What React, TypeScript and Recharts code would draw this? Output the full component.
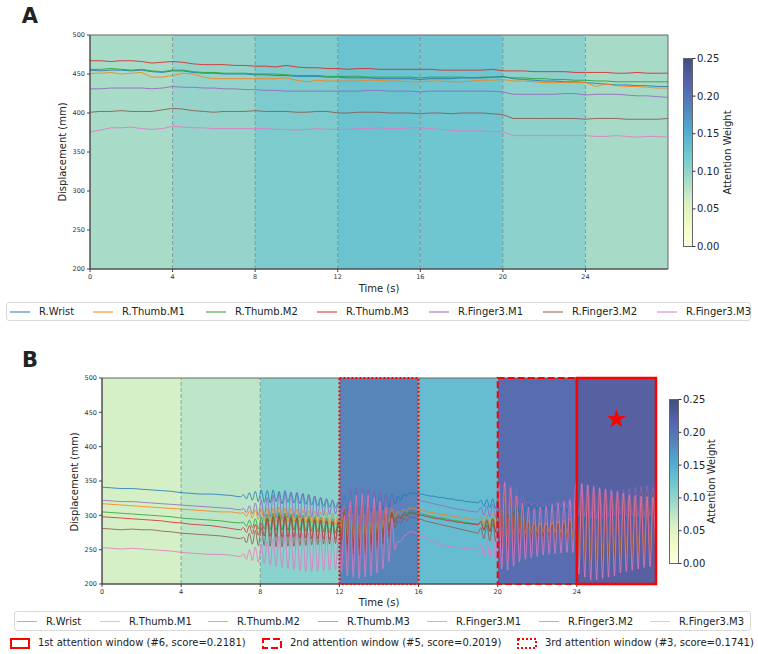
import React from "react";
import {
  LineChart,
  Line,
  XAxis,
  YAxis,
  ReferenceArea,
  ReferenceLine,
  ReferenceDot,
} from "recharts";

// marker series, plotted in this order (last one on top)
const SERIES = [
  { key: "wrist", name: "R.Wrist", color: "#1f77b4" },
  { key: "thumbM1", name: "R.Thumb.M1", color: "#ff7f0e" },
  { key: "thumbM2", name: "R.Thumb.M2", color: "#2ca02c" },
  { key: "thumbM3", name: "R.Thumb.M3", color: "#d62728" },
  { key: "finger3M1", name: "R.Finger3.M1", color: "#9467bd" },
  { key: "finger3M2", name: "R.Finger3.M2", color: "#8c564b" },
  { key: "finger3M3", name: "R.Finger3.M3", color: "#e377c2" },
];

const TIME_TICKS = [0, 4, 8, 12, 16, 20, 24];
const DISP_TICKS = [200, 250, 300, 350, 400, 450, 500];
const WEIGHT_TICKS = [0, 0.05, 0.1, 0.15, 0.2, 0.25];
const WINDOW_STARTS = [0, 4, 8, 12, 16, 20, 24];
const WINDOW_LEN = 4;

// trial A: one sample every 0.5 s, 0..28 s
const A_STEP = 0.5;
const A_WRIST = [
  455, 454, 455, 455, 454, 455, 453, 452,
  454, 454, 452, 451, 451, 450, 450, 450,
  449, 449, 448, 448, 447, 447, 447, 446,
  446, 445, 445, 445, 444, 444, 444, 444,
  443, 444, 444, 444, 445, 445, 445, 446,
  447, 444, 443, 442, 441, 441, 440, 440,
  439, 438, 437, 436, 436, 435, 435, 434,
  434,
];
const A_THUMB_M1 = [
  451, 451, 452, 450, 451, 452, 446, 446,
  448, 451, 450, 446, 444, 444, 444, 444,
  444, 444, 444, 445, 442, 440, 442, 441,
  441, 441, 441, 442, 442, 441, 441, 440,
  440, 441, 441, 440, 440, 441, 442, 442,
  443, 441, 441, 440, 439, 439, 439, 439,
  439, 434, 437, 435, 434, 434, 433, 432,
  432,
];
const A_THUMB_M2 = [
  456, 456, 457, 456, 455, 456, 454, 453,
  455, 455, 453, 452, 452, 451, 451, 451,
  450, 450, 450, 449, 448, 448, 448, 447,
  447, 447, 447, 446, 446, 446, 446, 446,
  445, 446, 446, 446, 446, 445, 446, 446,
  446, 445, 445, 444, 444, 443, 443, 442,
  442, 441, 441, 440, 440, 440, 440, 440,
  440,
];
const A_THUMB_M3 = [
  467, 467, 466, 467, 467, 466, 464, 465,
  466, 465, 463, 462, 462, 462, 461, 461,
  460, 460, 459, 461, 459, 458, 458, 457,
  457, 456, 457, 457, 456, 456, 456, 456,
  456, 456, 455, 455, 455, 455, 455, 456,
  454, 454, 454, 453, 453, 453, 453, 452,
  452, 452, 452, 451, 451, 452, 451, 451,
  451,
];
const A_FINGER3_M1 = [
  431, 431, 432, 432, 432, 432, 431, 432,
  434, 433, 433, 432, 432, 431, 431, 430,
  430, 429, 429, 428, 428, 428, 428, 428,
  428, 428, 428, 429, 429, 428, 428, 428,
  427, 428, 428, 428, 428, 428, 428, 428,
  427, 424, 424, 424, 424, 424, 425, 425,
  423, 424, 424, 424, 423, 422, 422, 421,
  420,
];
const A_FINGER3_M2 = [
  401, 402, 402, 403, 402, 402, 402, 404,
  406, 405, 403, 402, 401, 402, 402, 402,
  403, 402, 402, 402, 401, 401, 402, 402,
  400, 400, 401, 401, 401, 400, 400, 400,
  399, 400, 400, 399, 400, 400, 400, 399,
  398, 393, 393, 393, 393, 393, 393, 393,
  392, 393, 393, 393, 392, 392, 392, 392,
  393,
];
const A_FINGER3_M3 = [
  376, 378, 381, 381, 382, 380, 379, 380,
  383, 382, 381, 381, 380, 380, 380, 380,
  380, 380, 379, 379, 378, 379, 380, 379,
  379, 379, 380, 380, 381, 380, 380, 381,
  381, 380, 379, 378, 377, 377, 377, 376,
  376, 371, 371, 371, 371, 371, 371, 371,
  371, 370, 370, 371, 370, 369, 370, 370,
  369,
];

// trial B: 0.5 s samples while still (0..7 s), then 0.15 s samples through the tremor
const B_STILL_STEP = 0.5;
const B_STILL_COUNT = 15;
const B_TREMOR_START = 7.15;
const B_TREMOR_STEP = 0.15;
const B_WRIST = [
  341, 340, 339, 339, 338, 337, 336, 335, 333, 332, 331, 331, 330, 329, 327,
  330, 324, 333, 322, 335, 320, 337,
  319, 336, 318, 337, 320, 335, 317, 336, 319, 334, 318, 333, 317, 332, 316, 330, 315, 328, 314, 326, 313, 324, 312, 322, 311, 320,
  310, 330, 304, 338, 302, 340, 300, 339, 302, 338, 304, 336, 306, 334, 308, 332, 312, 330, 316,
  328, 322, 331, 328, 333, 332,
  332, 331, 331, 330, 329, 328, 328, 327, 326, 326, 325, 324, 324, 323, 322, 322, 321, 320, 320, 319, 319, 318,
  322, 313, 323, 311, 324, 310,
  336, 300, 342, 296, 340, 298, 336, 302, 330,
  305, 325, 307, 322, 308, 320, 309, 318, 309, 318, 308, 318, 307, 320, 306, 322, 304,
  338, 292, 342, 288, 343, 286, 342, 285, 340, 286, 338, 288, 336, 290, 334, 292, 334, 292, 335, 291, 336, 290, 337, 290, 338, 291, 336, 292,
];
const B_THUMB_M1 = [
  317, 316, 315, 314, 313, 312, 311, 310, 309, 308, 307, 306, 305, 305, 303,
  304, 298, 306, 296, 308, 294, 309,
  292, 310, 291, 311, 290, 312, 291, 311, 290, 310, 291, 309, 290, 308, 289, 307, 289, 306, 288, 305, 288, 304, 287, 303, 286, 302,
  282, 312, 272, 318, 268, 322, 266, 320, 268, 318, 272, 316, 276, 314, 282, 312, 290, 310, 298,
  306, 302, 309, 306, 311, 310,
  309, 308, 307, 306, 305, 304, 304, 303, 302, 301, 301, 300, 299, 298, 298, 297, 296, 296, 295, 294, 294, 293,
  298, 286, 300, 284, 302, 283,
  330, 262, 336, 260, 330, 266, 322, 272, 312,
  274, 292, 275, 290, 276, 289, 276, 289, 276, 290, 275, 291, 274, 292, 273, 294, 270,
  326, 250, 330, 246, 332, 244, 331, 244, 330, 246, 328, 248, 326, 250, 324, 252, 324, 252, 325, 251, 326, 250, 327, 250, 328, 251, 326, 252,
];
const B_THUMB_M2 = [
  305, 304, 303, 302, 301, 300, 299, 298, 296, 295, 294, 293, 292, 290, 289,
  290, 284, 293, 282, 295, 280, 297,
  280, 302, 279, 303, 278, 304, 279, 303, 278, 302, 279, 301, 278, 300, 277, 299, 277, 298, 276, 297, 276, 296, 275, 295, 274, 294,
  272, 306, 264, 312, 260, 316, 258, 315, 260, 313, 264, 311, 268, 309, 274, 307, 282, 305, 292,
  300, 297, 304, 301, 306, 305,
  304, 303, 302, 301, 300, 299, 298, 297, 296, 296, 295, 294, 293, 292, 292, 291, 290, 290, 289, 288, 288, 287,
  292, 280, 294, 278, 296, 277,
  326, 258, 332, 256, 326, 262, 318, 268, 306,
  270, 288, 271, 286, 272, 285, 272, 285, 272, 286, 271, 287, 270, 288, 269, 290, 266,
  322, 246, 326, 242, 328, 240, 327, 240, 326, 242, 324, 244, 322, 246, 320, 248, 320, 248, 321, 247, 322, 246, 323, 246, 324, 247, 322, 248,
];
const B_THUMB_M3 = [
  298, 297, 296, 295, 294, 293, 292, 290, 289, 287, 286, 285, 283, 281, 279,
  282, 275, 285, 273, 287, 271, 289,
  270, 296, 269, 298, 268, 299, 268, 298, 268, 297, 268, 296, 267, 295, 267, 294, 266, 293, 266, 292, 266, 291, 265, 290, 265, 289,
  266, 302, 258, 310, 254, 314, 252, 313, 254, 311, 258, 309, 262, 307, 268, 305, 278, 303, 290,
  298, 295, 302, 299, 304, 303,
  302, 301, 300, 299, 298, 297, 296, 295, 295, 294, 293, 292, 292, 291, 290, 290, 289, 288, 288, 287, 287, 286,
  290, 278, 292, 276, 294, 275,
  328, 256, 334, 254, 328, 260, 320, 266, 308,
  268, 287, 269, 285, 270, 284, 270, 284, 270, 285, 269, 286, 268, 287, 267, 289, 264,
  324, 244, 328, 240, 330, 238, 329, 238, 328, 240, 326, 242, 324, 244, 322, 246, 322, 246, 323, 245, 324, 244, 325, 244, 326, 245, 324, 246,
];
const B_FINGER3_M1 = [
  322, 321, 320, 320, 319, 318, 317, 316, 315, 314, 313, 312, 311, 310, 308,
  310, 304, 314, 302, 318, 300, 322,
  298, 326, 297, 330, 296, 332, 295, 333, 296, 334, 297, 333, 296, 332, 298, 330, 297, 328, 298, 326, 300, 324, 301, 322, 302, 318,
  296, 335, 290, 340, 286, 342, 284, 341, 286, 340, 288, 338, 290, 336, 294, 332, 298, 328, 304,
  316, 310, 320, 317, 322, 323,
  323, 322, 321, 320, 319, 318, 317, 316, 315, 314, 313, 312, 311, 310, 309, 308, 308, 307, 306, 306, 305, 305,
  312, 300, 314, 298, 316, 297,
  345, 300, 348, 302, 344, 306, 338, 310, 330,
  313, 322, 314, 320, 313, 319, 313, 318, 314, 318, 313, 320, 312, 322, 311, 325, 306,
  346, 300, 347, 298, 345, 296, 343, 295, 341, 296, 339, 298, 338, 300, 337, 301, 338, 300, 339, 299, 341, 298, 342, 298, 343, 299, 341, 300,
];
const B_FINGER3_M2 = [
  281, 280, 279, 280, 279, 279, 277, 276, 274, 273, 272, 271, 270, 268, 266,
  268, 260, 274, 258, 278, 256, 282,
  256, 295, 255, 298, 254, 300, 254, 299, 255, 298, 255, 297, 256, 296, 256, 295, 257, 294, 257, 293, 258, 292, 258, 291, 259, 290,
  256, 310, 248, 318, 244, 322, 242, 321, 244, 319, 248, 317, 252, 314, 258, 310, 268, 305, 282,
  292, 288, 296, 292, 298, 297,
  296, 295, 294, 292, 291, 290, 289, 288, 287, 286, 285, 284, 283, 282, 281, 280, 279, 278, 277, 276, 275, 274,
  282, 266, 286, 263, 288, 262,
  338, 250, 342, 248, 336, 254, 326, 260, 314,
  262, 290, 263, 288, 264, 286, 264, 286, 264, 287, 263, 289, 262, 290, 261, 293, 258,
  335, 236, 338, 232, 340, 230, 339, 230, 338, 232, 336, 234, 334, 236, 332, 238, 331, 238, 332, 237, 333, 236, 334, 236, 335, 237, 333, 238,
];
const B_FINGER3_M3 = [
  253, 252, 251, 252, 251, 250, 249, 248, 246, 245, 244, 243, 243, 242, 240,
  244, 236, 250, 234, 254, 232, 258,
  230, 262, 228, 266, 226, 270, 224, 272, 222, 273, 220, 274, 219, 274, 218, 274, 218, 273, 218, 272, 219, 270, 220, 268, 221, 266,
  218, 300, 212, 320, 210, 330, 208, 332, 210, 330, 212, 326, 216, 320, 222, 310, 232, 296, 250,
  262, 262, 270, 272, 276, 276,
  274, 272, 270, 268, 266, 264, 262, 260, 258, 257, 256, 255, 254, 254, 253, 253, 252, 252, 251, 251, 250, 250,
  258, 242, 262, 238, 266, 236,
  345, 222, 348, 220, 340, 226, 328, 232, 318,
  236, 312, 238, 310, 240, 312, 242, 314, 243, 316, 244, 318, 245, 320, 246, 322, 246,
  348, 214, 346, 210, 344, 206, 342, 206, 340, 208, 338, 210, 336, 212, 334, 216, 332, 218, 330, 220, 329, 222, 328, 224, 327, 225, 326, 226,
];

// top-ranked attention windows in trial B
const TOP_WINDOWS = [
  { rank: "1st", index: 6, score: 0.2181 },
  { rank: "2nd", index: 5, score: 0.2019 },
  { rank: "3rd", index: 3, score: 0.1741 },
];
const PEAK_MARK = { t: 26, value: 440 };

// window shading (colormap colours for each window's weight)
const FILLS_A = ["#a8dcc9", "#96d4cb", "#7ecbce", "#6cc3d0", "#6fc5d0", "#8dd1cc", "#a7dbc8"];
const FILLS_B = ["#d5efc6", "#bde5c8", "#89d2cd", "#5685ba", "#66bdd2", "#576db0", "#5760a0"];
const RANK_DASH = ["", "7 3", "2 2"];
const RANK_WIDTH = [2.5, 2, 2];
const CMAP = ["#ffffe1", "#f1f9c2", "#d3eec4", "#9bd8ca", "#6bc6d1", "#4fa9ce", "#5381bb", "#5561ac", "#3e4f7d"];

const valuesA: Record<string, number[]> = {
  wrist: A_WRIST, thumbM1: A_THUMB_M1, thumbM2: A_THUMB_M2, thumbM3: A_THUMB_M3,
  finger3M1: A_FINGER3_M1, finger3M2: A_FINGER3_M2, finger3M3: A_FINGER3_M3,
};
const valuesB: Record<string, number[]> = {
  wrist: B_WRIST, thumbM1: B_THUMB_M1, thumbM2: B_THUMB_M2, thumbM3: B_THUMB_M3,
  finger3M1: B_FINGER3_M1, finger3M2: B_FINGER3_M2, finger3M3: B_FINGER3_M3,
};

const rowsA = A_WRIST.map((_, i) => {
  const row: Record<string, number> = { t: i * A_STEP };
  SERIES.forEach((s) => (row[s.key] = valuesA[s.key][i]));
  return row;
});

const rowsB = B_WRIST.map((_, i) => {
  const t = i < B_STILL_COUNT ? i * B_STILL_STEP : B_TREMOR_START + (i - B_STILL_COUNT) * B_TREMOR_STEP;
  const row: Record<string, number> = { t: Math.round(t * 100) / 100 };
  SERIES.forEach((s) => (row[s.key] = valuesB[s.key][i]));
  return row;
});

const FONT = "'DejaVu Sans', sans-serif";
const tickStyle = { fontSize: 6.5, fill: "#333", fontFamily: FONT };

function Label({ x, y, size = 10, rotate = false, bold = false, children }: any) {
  return (
    <div
      style={{
        position: "absolute",
        left: x,
        top: y,
        transform: `translate(-50%, -50%)${rotate ? " rotate(-90deg)" : ""}`,
        fontSize: size,
        fontWeight: bold ? 700 : 400,
        whiteSpace: "nowrap",
        lineHeight: 1,
      }}
    >
      {children}
    </div>
  );
}

function ColorBar({ x, y, h, labelOffset, id }: any) {
  const w = 9;
  return (
    <svg style={{ position: "absolute", left: x, top: y - 8 }} width={80} height={h + 16}>
      <defs>
        <linearGradient id={id} x1="0" y1="1" x2="0" y2="0">
          {CMAP.map((c, i) => (
            <stop key={i} offset={i / (CMAP.length - 1)} stopColor={c} />
          ))}
        </linearGradient>
      </defs>
      <rect x={0.5} y={8.5} width={w} height={h} fill={`url(#${id})`} stroke="#666" strokeWidth={1} />
      {WEIGHT_TICKS.map((v) => {
        const ty = 8.5 + h * (1 - v / 0.25);
        return (
          <g key={v}>
            <line x1={w + 0.5} x2={w + 3.5} y1={ty} y2={ty} stroke="#333" />
            <text x={w + 5} y={ty} dominantBaseline="central" fontSize={10} fill="#222" fontFamily={FONT}>
              {v.toFixed(2)}
            </text>
          </g>
        );
      })}
      <text
        x={labelOffset}
        y={8.5 + h / 2}
        transform={`rotate(-90 ${labelOffset} ${8.5 + h / 2})`}
        textAnchor="middle"
        dominantBaseline="central"
        fontSize={10}
        fill="#222"
        fontFamily={FONT}
      >
        Attention Weight
      </text>
    </svg>
  );
}

function SeriesLegend({ left, top, width, height, textStarts }: any) {
  return (
    <div
      style={{
        position: "absolute",
        left,
        top,
        width,
        height,
        border: "1px solid #d9d9d9",
        borderRadius: 3,
        boxSizing: "border-box",
      }}
    >
      {SERIES.map((s, i) => (
        <React.Fragment key={s.key}>
          <div
            style={{
              position: "absolute",
              left: textStarts[i] - left - 30,
              top: height / 2 - 1.5,
              width: 20,
              height: 1.5,
              background: s.color,
              opacity: 0.5,
            }}
          />
          <div
            style={{
              position: "absolute",
              left: textStarts[i] - left - 1,
              top: height / 2 - 6.5,
              fontSize: 10,
              lineHeight: "12px",
              whiteSpace: "nowrap",
            }}
          >
            {s.name}
          </div>
        </React.Fragment>
      ))}
    </div>
  );
}

function WindowLegend({ top }: any) {
  const starts = [10, 262, 517];
  return (
    <>
      {TOP_WINDOWS.map((w, i) => (
        <React.Fragment key={w.rank}>
          <svg style={{ position: "absolute", left: starts[i], top: top - 5 }} width={20} height={11}>
            <rect
              x={1}
              y={1}
              width={18}
              height={9}
              fill="none"
              stroke="#ff0000"
              strokeWidth={2}
              strokeDasharray={RANK_DASH[i] || undefined}
            />
          </svg>
          <div
            style={{
              position: "absolute",
              left: starts[i] + 28,
              top: top - 6,
              fontSize: 10,
              lineHeight: "12px",
              whiteSpace: "nowrap",
            }}
          >
            {`${w.rank} attention window (#${w.index}, score=${w.score.toFixed(4)})`}
          </div>
        </React.Fragment>
      ))}
    </>
  );
}

function Star(props: any) {
  const { cx, cy } = props;
  const pts: string[] = [];
  for (let i = 0; i < 10; i++) {
    const r = i % 2 === 0 ? 10 : 3.8;
    const a = -Math.PI / 2 + (i * Math.PI) / 5;
    pts.push(`${cx + r * Math.cos(a)},${cy + r * Math.sin(a)}`);
  }
  return <polygon points={pts.join(" ")} fill="#ff0000" />;
}

function axes() {
  return [
    <XAxis
      key="x"
      dataKey="t"
      type="number"
      domain={[0, 28]}
      ticks={TIME_TICKS}
      allowDataOverflow
      height={20}
      tickSize={3}
      tickMargin={2}
      tick={tickStyle}
      stroke="#444"
    />,
    <YAxis
      key="y"
      type="number"
      domain={[200, 500]}
      ticks={DISP_TICKS}
      allowDataOverflow
      width={40}
      tickSize={3}
      tickMargin={2}
      tick={tickStyle}
      stroke="#444"
    />,
  ];
}

export default function App() {
  return (
    <div
      style={{
        position: "absolute",
        left: 0,
        top: 0,
        width: 758,
        height: 654,
        background: "#fff",
        fontFamily: FONT,
        color: "#222",
        overflow: "hidden",
      }}
    >
      <Label x={30} y={16} size={21} bold>A</Label>
      <div style={{ position: "absolute", left: 0, top: 0 }}>
        <LineChart width={758} height={300} data={rowsA} margin={{ top: 35, right: 90, bottom: 11, left: 50 }}>
          {WINDOW_STARTS.map((s, i) => (
            <ReferenceArea key={s} x1={s} x2={s + WINDOW_LEN} fill={FILLS_A[i]} fillOpacity={1} stroke="none" />
          ))}
          {WINDOW_STARTS.slice(1).map((s) => (
            <ReferenceLine key={s} x={s} stroke="#6f7f80" strokeOpacity={0.7} strokeDasharray="4 2" />
          ))}
          <ReferenceArea x1={0} x2={28} y1={200} y2={500} fill="none" stroke="#666" />
          {axes()}
          {SERIES.map((s) => (
            <Line
              key={s.key}
              dataKey={s.key}
              name={s.name}
              stroke={s.color}
              strokeOpacity={0.85}
              strokeWidth={1}
              dot={false}
              type="linear"
              isAnimationActive={false}
            />
          ))}
        </LineChart>
      </div>
      <Label x={63} y={152} rotate>Displacement (mm)</Label>
      <Label x={379} y={289}>Time (s)</Label>
      <ColorBar x={683} y={58} h={188} labelOffset={44} id="cbarA" />
      <SeriesLegend left={6} top={302} width={745} height={19} textStarts={[39, 122, 235, 346, 458, 572, 686]} />

      <Label x={30} y={360} size={21} bold>B</Label>
      <div style={{ position: "absolute", left: 0, top: 340 }}>
        <LineChart width={758} height={270} data={rowsB} margin={{ top: 38, right: 102, bottom: 6, left: 62 }}>
          {WINDOW_STARTS.map((s, i) => (
            <ReferenceArea key={s} x1={s} x2={s + WINDOW_LEN} fill={FILLS_B[i]} fillOpacity={1} stroke="none" />
          ))}
          {[4, 8].map((s) => (
            <ReferenceLine key={s} x={s} stroke="#6f7f80" strokeOpacity={0.7} strokeDasharray="4 2" />
          ))}
          <ReferenceArea x1={0} x2={28} y1={200} y2={500} fill="none" stroke="#666" />
          {axes()}
          {SERIES.map((s) => (
            <Line
              key={s.key}
              dataKey={s.key}
              name={s.name}
              stroke={s.color}
              strokeOpacity={0.8}
              strokeWidth={1}
              dot={false}
              type="monotone"
              isAnimationActive={false}
            />
          ))}
          {TOP_WINDOWS.map((w, i) => (
            <ReferenceArea
              key={w.rank}
              x1={WINDOW_STARTS[w.index]}
              x2={WINDOW_STARTS[w.index] + WINDOW_LEN}
              y1={200}
              y2={500}
              fill="none"
              stroke="#ff0000"
              strokeWidth={RANK_WIDTH[i]}
              strokeDasharray={RANK_DASH[i] || undefined}
              zIndex={900 - i}
            />
          ))}
          <ReferenceDot x={PEAK_MARK.t} y={PEAK_MARK.value} r={10} shape={Star} zIndex={950} />
        </LineChart>
      </div>
      <Label x={75} y={482} rotate>Displacement (mm)</Label>
      <Label x={379} y={603}>Time (s)</Label>
      <ColorBar x={669} y={399} h={164} labelOffset={42} id="cbarB" />
      <SeriesLegend left={14} top={611} width={737} height={20} textStarts={[46, 129, 237, 347, 456, 568, 679]} />
      <WindowLegend top={643} />
    </div>
  );
}
